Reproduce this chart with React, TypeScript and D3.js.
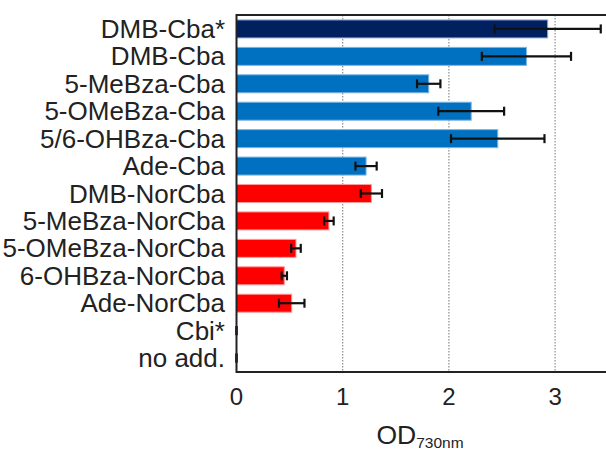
import { useEffect, useRef } from 'react'
import * as d3 from 'd3'

const CATEGORIES = [
  'DMB-Cba*',
  'DMB-Cba',
  '5-MeBza-Cba',
  '5-OMeBza-Cba',
  '5/6-OHBza-Cba',
  'Ade-Cba',
  'DMB-NorCba',
  '5-MeBza-NorCba',
  '5-OMeBza-NorCba',
  '6-OHBza-NorCba',
  'Ade-NorCba',
  'Cbi*',
  'no add.',
]
const VALUES = [2.93, 2.73, 1.81, 2.21, 2.46, 1.22, 1.27, 0.87, 0.56, 0.45, 0.52, 0, 0]
const ERRORS = [0.5, 0.42, 0.11, 0.31, 0.44, 0.1, 0.1, 0.045, 0.045, 0.025, 0.12, 0, 0]
const GROUPS = ['ref', 'cba', 'cba', 'cba', 'cba', 'cba', 'nor', 'nor', 'nor', 'nor', 'nor', 'none', 'none']
const X_TICKS = [0, 1, 2, 3]

const FILL: Record<string, string> = { ref: '#002060', cba: '#0070C0', nor: '#FF0000', none: '#000' }
const EDGE: Record<string, string> = { ref: '#8FA8D8', cba: '#7FB4E2', nor: '#FF9A9A', none: '#000' }

export default function App() {
  const ref = useRef<SVGSVGElement>(null)

  useEffect(() => {
    if (!ref.current) return
    const width = 606
    const height = 451
    const left = 236.5
    const top = 15
    const bottom = 372

    const svg = d3.select(ref.current)
    svg.selectAll('*').remove()
    svg.attr('width', width).attr('height', height)

    const x = d3.scaleLinear().domain([0, 3.5]).range([left, left + 3.5 * 106.2])
    const y = d3
      .scaleBand<string>()
      .domain(CATEGORIES)
      .range([top, bottom])
      .paddingInner(0.344)
      .paddingOuter(0.18)

    const font = 'Liberation Sans, Arial, sans-serif'

    // dotted grid
    svg
      .append('g')
      .selectAll('line')
      .data(X_TICKS.filter((t) => t > 0))
      .enter()
      .append('line')
      .attr('x1', (d) => x(d))
      .attr('x2', (d) => x(d))
      .attr('y1', top)
      .attr('y2', bottom)
      .attr('stroke', '#8c8c8c')
      .attr('stroke-width', 1.2)
      .attr('stroke-dasharray', '1.5,1.5')

    const data = CATEGORIES.map((c, i) => ({ c, v: VALUES[i], e: ERRORS[i], g: GROUPS[i] }))

    // bars
    svg
      .append('g')
      .selectAll('rect')
      .data(data.filter((d) => d.v > 0))
      .enter()
      .append('rect')
      .attr('x', x(0))
      .attr('y', (d) => y(d.c)!)
      .attr('width', (d) => x(d.v) - x(0))
      .attr('height', y.bandwidth())
      .attr('fill', (d) => FILL[d.g])
      .attr('stroke', (d) => EDGE[d.g])
      .attr('stroke-width', 1)

    // error bars
    const eb = svg
      .append('g')
      .attr('stroke', '#111')
      .attr('stroke-width', 2.2)
      .selectAll('g')
      .data(data)
      .enter()
      .append('g')
      .attr('transform', (d) => `translate(0,${y(d.c)! + y.bandwidth() / 2})`)
    eb.append('line')
      .attr('x1', (d) => x(d.v - d.e))
      .attr('x2', (d) => x(d.v + d.e))
    eb.append('line')
      .attr('x1', (d) => x(d.v - d.e))
      .attr('x2', (d) => x(d.v - d.e))
      .attr('y1', -4.5)
      .attr('y2', 4.5)
    eb.append('line')
      .attr('x1', (d) => x(d.v + d.e))
      .attr('x2', (d) => x(d.v + d.e))
      .attr('y1', -4.5)
      .attr('y2', 4.5)

    // frame
    svg
      .append('path')
      .attr('d', `M${width},${top}H${left}V${bottom}H${width}`)
      .attr('fill', 'none')
      .attr('stroke', '#222')
      .attr('stroke-width', 2)

    // category labels
    svg
      .append('g')
      .selectAll('text')
      .data(CATEGORIES)
      .enter()
      .append('text')
      .attr('x', 225)
      .attr('y', (d) => y(d)! + y.bandwidth() / 2 + 9)
      .attr('text-anchor', 'end')
      .attr('font-family', font)
      .attr('font-size', 26)
      .attr('fill', '#222')
      .text((d) => d)

    // x tick labels
    svg
      .append('g')
      .selectAll('text')
      .data(X_TICKS)
      .enter()
      .append('text')
      .attr('x', (d) => x(d))
      .attr('y', 405)
      .attr('text-anchor', 'middle')
      .attr('font-family', font)
      .attr('font-size', 24)
      .attr('fill', '#222')
      .text((d) => d)

    // axis title
    const title = svg
      .append('text')
      .attr('x', 376.5)
      .attr('y', 444)
      .attr('font-family', font)
      .attr('font-size', 26.5)
      .attr('fill', '#222')
    title.append('tspan').text('OD')
    title.append('tspan').attr('font-size', 15.5).attr('dy', 4).text('730nm')
  }, [])

  return <svg ref={ref} style={{ position: 'absolute', left: 0, top: 0, background: '#fff' }} />
}
